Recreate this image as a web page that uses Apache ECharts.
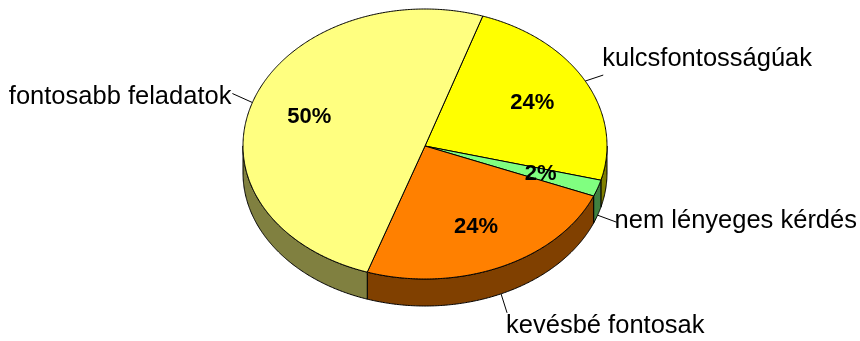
<!DOCTYPE html>
<html>
<head>
<meta charset="utf-8">
<script src="https://cdn.jsdelivr.net/npm/echarts@6/dist/echarts.min.js"></script>
<style>
  html, body { margin: 0; padding: 0; background: #ffffff; }
  #chart { width: 860px; height: 341px; }
</style>
</head>
<body>
<div id="chart"></div>
<script>
// ---- data ----
const categories = ['kulcsfontosságúak', 'nem lényeges kérdés', 'kevésbé fontosak', 'fontosabb feladatok'];
const values = [24, 2, 24, 50];
const pctLabels = ['24%', '2%', '24%', '50%'];

// ---- style ----
const topColors = ['#FFFF00', '#80FF80', '#FF8000', '#FFFF80'];
const sideColors = ['#808000', '#408040', '#804000', '#808040'];
const FONT = "'Liberation Sans', Arial, Helvetica, sans-serif";
const geo = { cx: 425, cy: 146, rx: 182, ryTop: 137, ryBot: 133, depth: 27, start: -71.5, pctR: 0.67 };
// leader vector from anchor, and text offset from leader end
const labelStyle = [
  { lead: [18, -6], off: [-1, -16], align: 'left' },
  { lead: [19, 7], off: [-2, -1], align: 'left' },
  { lead: [6, 19], off: [-1, 13], align: 'left' },
  { lead: [-20, -9], off: [-1, 3], align: 'right' }
];

const total = values.reduce((a, b) => a + b, 0);
function sliceAngles(i) {
  let before = 0;
  for (let k = 0; k < i; k++) before += values[k];
  const s = geo.start + 360 * before / total;
  return [s, s + 360 * values[i] / total];
}
function pt(deg, f, dy) {
  const r = deg * Math.PI / 180;
  const c = Math.cos(r), s = Math.sin(r);
  const ry = s < 0 ? geo.ryTop : geo.ryBot;
  return [geo.cx + f * geo.rx * c, geo.cy + f * ry * s + (dy || 0)];
}
function arc(a, b, dy) {
  const pts = [];
  const n = Math.max(2, Math.ceil(Math.abs(b - a) / 0.5));
  for (let j = 0; j <= n; j++) pts.push(pt(a + (b - a) * j / n, 1, dy));
  return pts;
}

function renderSide(params, api) {
  const i = params.dataIndex;
  const [s, e] = sliceAngles(i);
  const children = [];
  [0, 360, -360].forEach(k => {
    const a = Math.max(s, k), b = Math.min(e, k + 180);
    if (a < b) {
      const top = arc(a, b, 0);
      const bot = arc(a, b, geo.depth).reverse();
      children.push({
        type: 'polygon',
        shape: { points: top.concat(bot) },
        style: { fill: sideColors[i], stroke: '#000', lineWidth: 1 }
      });
    }
  });
  return { type: 'group', children };
}

function renderTop(params, api) {
  const i = params.dataIndex;
  const [s, e] = sliceAngles(i);
  const pts = [[geo.cx, geo.cy]].concat(arc(s, e, 0));
  const mid = (s + e) / 2;
  const pp = pt(mid, geo.pctR, 0);
  const midN = ((mid % 360) + 360) % 360;
  const anchor = pt(mid, 1, (midN > 0 && midN < 180) ? geo.depth : 0);
  const ls = labelStyle[i];
  const end = [anchor[0] + ls.lead[0], anchor[1] + ls.lead[1]];
  return {
    type: 'group',
    children: [
      { type: 'polygon', shape: { points: pts }, style: { fill: topColors[i], stroke: '#000', lineWidth: 1 } },
      { type: 'line', shape: { x1: anchor[0], y1: anchor[1], x2: end[0], y2: end[1] }, style: { stroke: '#000', lineWidth: 1 } },
      { type: 'text', z2: 10, style: { text: pctLabels[i], x: pp[0], y: pp[1], fill: '#000', fontSize: 22, fontWeight: 'bold', fontFamily: FONT, align: 'center', verticalAlign: 'middle' } },
      { type: 'text', z2: 10, style: { text: categories[i], x: end[0] + ls.off[0], y: end[1] + ls.off[1], fill: '#000', fontSize: 25.5, fontFamily: FONT, align: ls.align, verticalAlign: 'middle' } }
    ]
  };
}

const chart = echarts.init(document.getElementById('chart'), null, { renderer: 'canvas' });
const seriesData = values.map((v, i) => ({ name: categories[i], value: v }));
chart.setOption({
  animation: false,
  backgroundColor: '#ffffff',
  series: [
    { type: 'custom', coordinateSystem: 'none', renderItem: renderSide, data: seriesData, z: 1, silent: true },
    { type: 'custom', coordinateSystem: 'none', renderItem: renderTop, data: seriesData, z: 2, silent: true }
  ]
});
</script>
</body>
</html>
